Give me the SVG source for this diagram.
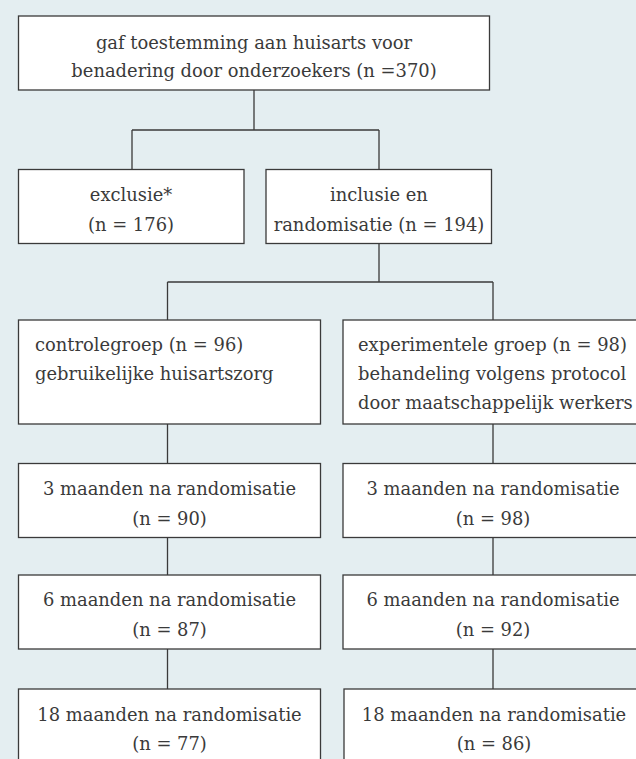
<svg xmlns="http://www.w3.org/2000/svg" width="636" height="759" viewBox="0 0 636 759">
<style>
.bg{fill:#e4eef1}
.box{fill:#ffffff;stroke:#3a3a3a;stroke-width:1.3}
.conn{fill:none;stroke:#3a3a3a;stroke-width:1.3}
text{font-family:"DejaVu Serif","Liberation Serif",serif;font-size:17.9px;fill:#3a3a3a}
.c{text-anchor:middle}
</style>
<rect class="bg" x="0" y="0" width="636" height="759"/>
<g id="connectors">
<path class="conn" d="M254,90 V130 M132,130 H379 M132,130 V169 M379,130 V169"/>
<path class="conn" d="M379,243 V282 M167.5,282 H493 M167.5,282 V320 M493,282 V320"/>
<path class="conn" d="M167.5,424 V463 M167.5,537 V575 M167.5,649 V689"/>
<path class="conn" d="M493,424 V463 M493,537 V575 M493,649 V689"/>
</g>
<g id="n-toestemming">
<rect class="box" x="18.5" y="16" width="471" height="74"/>
<text class="c" x="254" y="48.5">gaf toestemming aan huisarts voor</text>
<text class="c" x="254" y="76.5">benadering door onderzoekers (n =370)</text>
</g>
<g id="n-exclusie">
<rect class="box" x="18.5" y="169.5" width="225.5" height="74"/>
<text class="c" x="131" y="201">exclusie*</text>
<text class="c" x="131" y="231">(n = 176)</text>
</g>
<g id="n-inclusie">
<rect class="box" x="266" y="169.5" width="225.5" height="74"/>
<text class="c" x="379" y="201">inclusie en</text>
<text class="c" x="379" y="231">randomisatie (n = 194)</text>
</g>
<g id="n-controle">
<rect class="box" x="18.5" y="320" width="302" height="104"/>
<text x="35" y="351">controlegroep (n = 96)</text>
<text x="35" y="380">gebruikelijke huisartszorg</text>
</g>
<g id="n-experimenteel">
<rect class="box" x="343" y="320" width="302" height="104"/>
<text x="358" y="351">experimentele groep (n = 98)</text>
<text x="358" y="380">behandeling volgens protocol</text>
<text x="358" y="408.5">door maatschappelijk werkers</text>
</g>
<g id="n-c3">
<rect class="box" x="18.5" y="463.5" width="302" height="74"/>
<text class="c" x="169.5" y="495">3 maanden na randomisatie</text>
<text class="c" x="169.5" y="524.5">(n = 90)</text>
</g>
<g id="n-e3">
<rect class="box" x="343" y="463.5" width="302" height="74"/>
<text class="c" x="493" y="495">3 maanden na randomisatie</text>
<text class="c" x="493" y="524.5">(n = 98)</text>
</g>
<g id="n-c6">
<rect class="box" x="18.5" y="575" width="302" height="74"/>
<text class="c" x="169.5" y="606">6 maanden na randomisatie</text>
<text class="c" x="169.5" y="635.5">(n = 87)</text>
</g>
<g id="n-e6">
<rect class="box" x="343" y="575" width="302" height="74"/>
<text class="c" x="493" y="606">6 maanden na randomisatie</text>
<text class="c" x="493" y="635.5">(n = 92)</text>
</g>
<g id="n-c18">
<rect class="box" x="18.5" y="689" width="302" height="74"/>
<text class="c" x="169.5" y="721">18 maanden na randomisatie</text>
<text class="c" x="169.5" y="750">(n = 77)</text>
</g>
<g id="n-e18">
<rect class="box" x="344" y="689" width="302" height="74"/>
<text class="c" x="494" y="721">18 maanden na randomisatie</text>
<text class="c" x="494" y="750">(n = 86)</text>
</g>
</svg>
